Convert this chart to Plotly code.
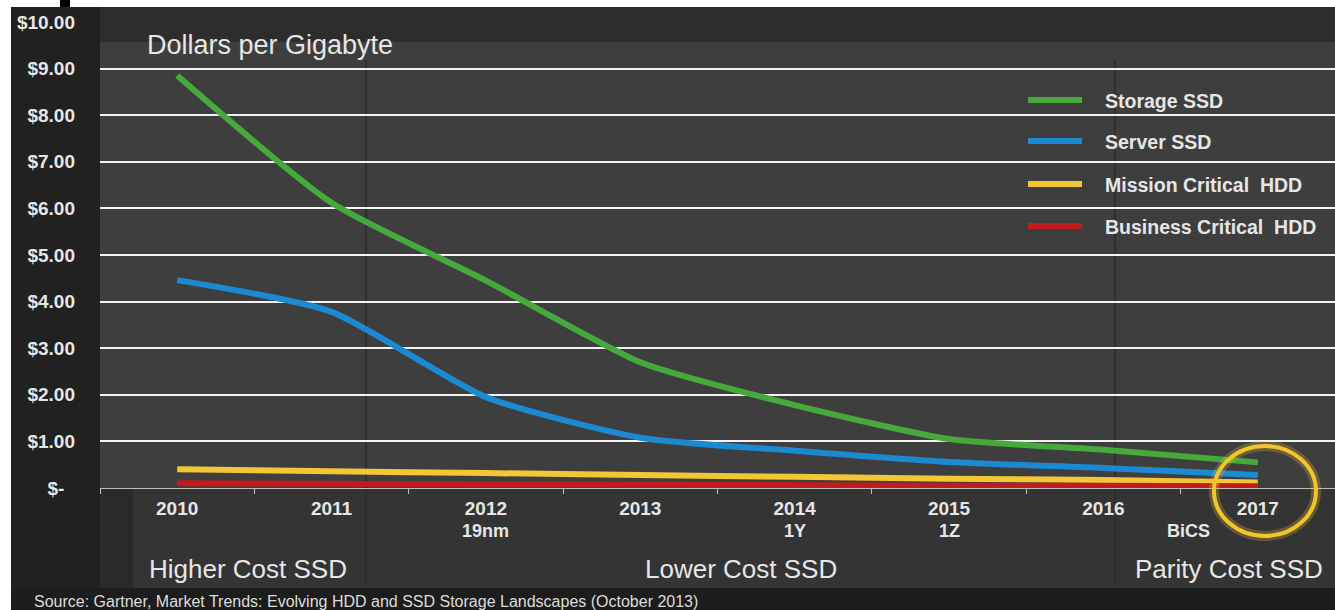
import plotly.graph_objects as go

# ---- data -------------------------------------------------------------
years = ["2010", "2011", "2012", "2013", "2014", "2015", "2016", "2017"]
year_notes = ["", "", "19nm", "", "1Y", "1Z", "", ""]

series_names = ["Storage SSD", "Server SSD", "Mission Critical  HDD", "Business Critical  HDD"]
storage_ssd = [8.85, 6.12, 4.45, 2.70, 1.78, 1.05, 0.82, 0.55]
server_ssd = [4.46, 3.78, 1.95, 1.08, 0.80, 0.56, 0.43, 0.28]
mission_hdd = [0.40, 0.36, 0.32, 0.28, 0.24, 0.20, 0.17, 0.12]
business_hdd = [0.10, 0.09, 0.08, 0.07, 0.06, 0.05, 0.05, 0.04]
series_colors = ["#46a93b", "#1b8ad2", "#f3c635", "#c21b1e"]

y_ticks = [0, 1, 2, 3, 4, 5, 6, 7, 8, 9, 10]
y_tick_text = ["$-\u00a0\u00a0"] + [f"${v}.00" for v in y_ticks[1:]]

section_labels = ["Higher Cost SSD", "Lower Cost SSD", "Parity Cost SSD"]
source_note = "Source: Gartner, Market Trends: Evolving HDD and SSD Storage Landscapes (October 2013)"

# ---- page geometry (pixels) ---------------------------------------------
W, H = 1335, 610
L, R, T, B = 100, 1335, 22, 488


def px(x):
    return (x - L) / (R - L)


def py(y):
    return (B - y) / (B - T)


FONT = "Liberation Sans, Arial, sans-serif"
TEXT = "#e6e6e6"

fig = go.Figure()

values = [storage_ssd, server_ssd, mission_hdd, business_hdd]
for name, vals, col in zip(series_names, values, series_colors):
    fig.add_trace(go.Scatter(
        x=years, y=vals, name=name, mode="lines",
        line=dict(color=col, width=6, shape="spline", smoothing=0.6),
        showlegend=False,
    ))

shapes = []


def rect(x0, y0, x1, y1, color):
    shapes.append(dict(type="rect", xref="paper", yref="paper",
                       x0=px(x0), x1=px(x1), y0=py(y1), y1=py(y0),
                       fillcolor=color, line=dict(width=0), layer="below"))


# backdrop panels
rect(11, 7, 1335, 610, "#343434")
rect(100, 42, 1335, 488, "#3e3e3e")
rect(100, 7, 1335, 42, "#2d2d2d")
rect(11, 7, 100, 588, "#212121")
rect(100, 488, 133, 588, "#2a2a2a")
rect(11, 588, 1335, 610, "#1d1d1d")
rect(60, 0, 70, 7, "#000000")
for xs in (366, 1115):
    shapes.append(dict(type="line", xref="paper", yref="paper",
                       x0=px(xs), x1=px(xs), y0=py(60), y1=py(588),
                       line=dict(color="#2e2e2e", width=2), layer="below"))

# highlight ring around the last year
cx, cy, rx, ry = 1265, 491, 51, 45
for wdt, col in ((10, "rgba(243,198,53,0.25)"), (4, "#f1c52c")):
    shapes.append(dict(type="circle", xref="paper", yref="paper",
                       x0=px(cx - rx), x1=px(cx + rx), y0=py(cy + ry), y1=py(cy - ry),
                       line=dict(color=col, width=wdt), layer="above"))

# legend swatches
legend_rows = [100, 141, 184, 226]
for row, col in zip(legend_rows, series_colors):
    shapes.append(dict(type="line", xref="paper", yref="paper",
                       x0=px(1028), x1=px(1082), y0=py(row), y1=py(row),
                       line=dict(color=col, width=6), layer="above"))

annotations = []
for row, name in zip(legend_rows, series_names):
    annotations.append(dict(xref="paper", yref="paper", x=px(1103), y=py(row + 1),
                            text=name, showarrow=False, xanchor="left", yanchor="middle",
                            font=dict(family=FONT, size=19.5, color=TEXT, weight="bold")))

annotations.append(dict(xref="paper", yref="paper", x=px(145), y=py(45),
                        text="Dollars per Gigabyte", showarrow=False,
                        xanchor="left", yanchor="middle",
                        font=dict(family=FONT, size=27, color=TEXT)))

for label, xc in zip(section_labels, (248, 741, 1229)):
    annotations.append(dict(xref="paper", yref="paper", x=px(xc), y=py(569),
                            text=label, showarrow=False, xanchor="center", yanchor="middle",
                            font=dict(family=FONT, size=26, color=TEXT)))

# second-line notes under the year ticks (placed by category index)
for idx, note in enumerate(year_notes):
    if note:
        annotations.append(dict(xref="x", yref="paper", x=idx, y=py(531),
                                text=note, showarrow=False, xanchor="center", yanchor="middle",
                                font=dict(family=FONT, size=18, color=TEXT, weight="bold")))

annotations.append(dict(xref="paper", yref="paper", x=px(1188), y=py(531),
                        text="BiCS", showarrow=False, xanchor="center", yanchor="middle",
                        font=dict(family=FONT, size=18, color=TEXT, weight="bold")))

annotations.append(dict(xref="paper", yref="paper", x=px(32), y=py(601),
                        text=source_note, showarrow=False, xanchor="left", yanchor="middle",
                        font=dict(family=FONT, size=16, color="#dcdcdc")))

fig.update_layout(
    width=W, height=H,
    margin=dict(l=L, r=W - R, t=T, b=H - B, pad=0),
    paper_bgcolor="#ffffff",
    plot_bgcolor="rgba(0,0,0,0)",
    showlegend=False,
    shapes=shapes,
    annotations=annotations,
    xaxis=dict(
        type="category", categoryorder="array", categoryarray=years,
        range=[-0.5, 7.5], tickmode="array", tickvals=years, ticktext=years,
        tickson="boundaries", ticks="outside", ticklen=5, tickcolor="#bdbdbd",
        showline=True, linecolor="#bdbdbd", linewidth=1, showgrid=False,
        tickfont=dict(family=FONT, size=19, color=TEXT, weight="bold"),
        ticklabelstandoff=3, fixedrange=True,
    ),
    yaxis=dict(
        range=[0, 10], tickmode="array", tickvals=y_ticks, ticktext=y_tick_text,
        showgrid=True, gridcolor="#f2f2f2", gridwidth=2, zeroline=False,
        showline=False, ticks="",
        tickfont=dict(family=FONT, size=19, color=TEXT, weight="bold"),
        ticklabelstandoff=24, fixedrange=True,
    ),
)

fig.write_html("out.html")
